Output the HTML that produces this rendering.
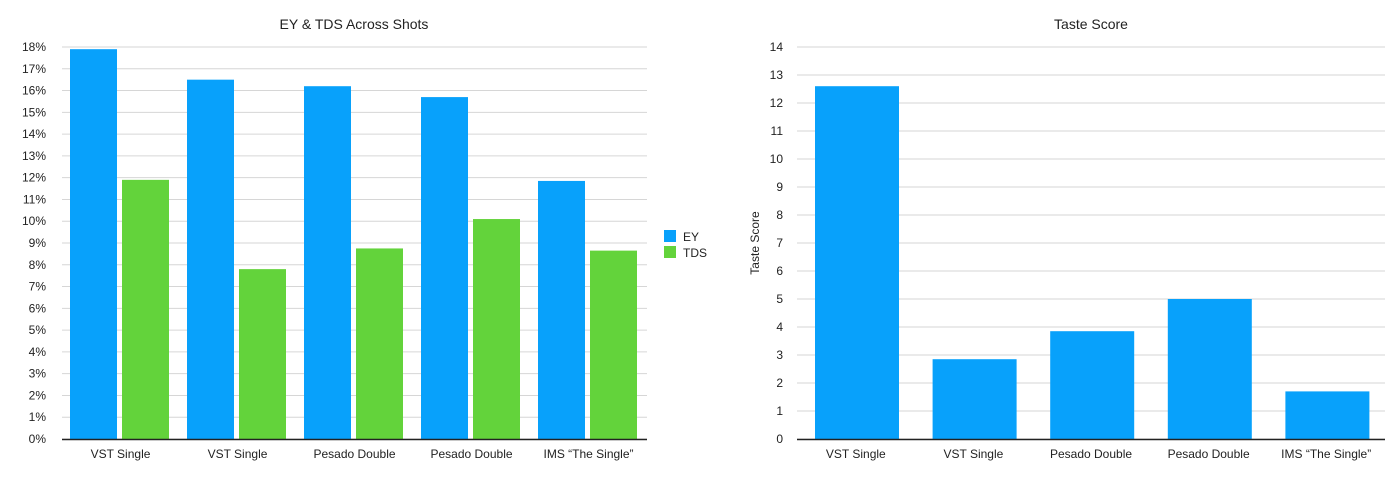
<!DOCTYPE html>
<html><head><meta charset="utf-8"><style>
body{margin:0;background:#fff;font-family:"Liberation Sans",sans-serif}
svg text{font-family:"Liberation Sans",sans-serif;fill:#222}
</style></head><body>
<svg id="c" width="1400" height="481"></svg>
<script>
const categories=["VST Single","VST Single","Pesado Double","Pesado Double","IMS “The Single”"];
const eyValues=[17.9,16.5,16.2,15.7,11.85];
const tdsValues=[11.9,7.8,8.75,10.1,8.65];
const leftTicks=[0,1,2,3,4,5,6,7,8,9,10,11,12,13,14,15,16,17,18];
const tasteValues=[12.6,2.85,3.85,5.0,1.7];
const rightTicks=[0,1,2,3,4,5,6,7,8,9,10,11,12,13,14];
const NS="http://www.w3.org/2000/svg";
const svg=document.getElementById('c');
function mk(t,a,p){const e=document.createElementNS(NS,t);for(const k in a)e.setAttribute(k,a[k]);(p||svg).appendChild(e);return e;}
const y0=439,yTop=47;
// Left chart
const lx0=62,lx1=647,lmax=18;
const ly=v=>y0-(v/lmax)*(y0-yTop);
const gL=mk('g',{});


let t=mk('text',{x:354,y:29,'text-anchor':'middle','font-size':14},gL);t.textContent='EY & TDS Across Shots';

leftTicks.forEach(v=>{
 const l=mk('line',{x1:lx0,x2:lx1,y1:ly(v),y2:ly(v),stroke:'#d6d6d6','stroke-width':1},gL);
 
 const tx=mk('text',{x:46,y:ly(v)+4,'text-anchor':'end','font-size':12},gL);tx.textContent=v+'%';
 
});
const gw=(lx1-lx0)/categories.length;
categories.forEach((c,i)=>{
 const gx=lx0+i*gw;
 const b1=mk('rect',{x:gx+8,y:ly(eyValues[i]),width:47,height:y0-ly(eyValues[i]),fill:'#08a1fb'},gL);
 
 const b2=mk('rect',{x:gx+60,y:ly(tdsValues[i]),width:47,height:y0-ly(tdsValues[i]),fill:'#63d33b'},gL);
 
 const tx=mk('text',{x:gx+gw/2,y:458,'text-anchor':'middle','font-size':12},gL);tx.textContent=c;
 
});
let ax=mk('line',{x1:lx0,x2:lx1,y1:y0+0.5,y2:y0+0.5,stroke:'#222','stroke-width':1.5},gL);

// legend
const lg=mk('g',{},gL);

[['EY','#08a1fb',230],['TDS','#63d33b',246]].forEach(([n,c,yy])=>{
 const r=mk('rect',{x:664,y:yy,width:12,height:12,fill:c},lg);
 
 const tx=mk('text',{x:683,y:yy+11,'font-size':12},lg);tx.textContent=n;
 
});
// Right chart
const rx0=797,rx1=1385,rmax=14;
const ry=v=>y0-(v/rmax)*(y0-yTop);
const gR=mk('g',{});


t=mk('text',{x:1091,y:29,'text-anchor':'middle','font-size':14},gR);t.textContent='Taste Score';

rightTicks.forEach(v=>{
 const l=mk('line',{x1:rx0,x2:rx1,y1:ry(v),y2:ry(v),stroke:'#d6d6d6','stroke-width':1},gR);
 
 const tx=mk('text',{x:783,y:ry(v)+4,'text-anchor':'end','font-size':12},gR);tx.textContent=v;
 
});
t=mk('text',{x:0,y:0,'text-anchor':'middle','font-size':12,transform:'translate(759,243) rotate(-90)'},gR);t.textContent='Taste Score';

const rgw=(rx1-rx0)/categories.length;
categories.forEach((c,i)=>{
 const gx=rx0+i*rgw;
 const b=mk('rect',{x:gx+18,y:ry(tasteValues[i]),width:84,height:y0-ry(tasteValues[i]),fill:'#08a1fb'},gR);
 
 const tx=mk('text',{x:gx+rgw/2,y:458,'text-anchor':'middle','font-size':12},gR);tx.textContent=c;
 
});
ax=mk('line',{x1:rx0,x2:rx1,y1:y0+0.5,y2:y0+0.5,stroke:'#222','stroke-width':1.5},gR);

</script>
</body></html>
